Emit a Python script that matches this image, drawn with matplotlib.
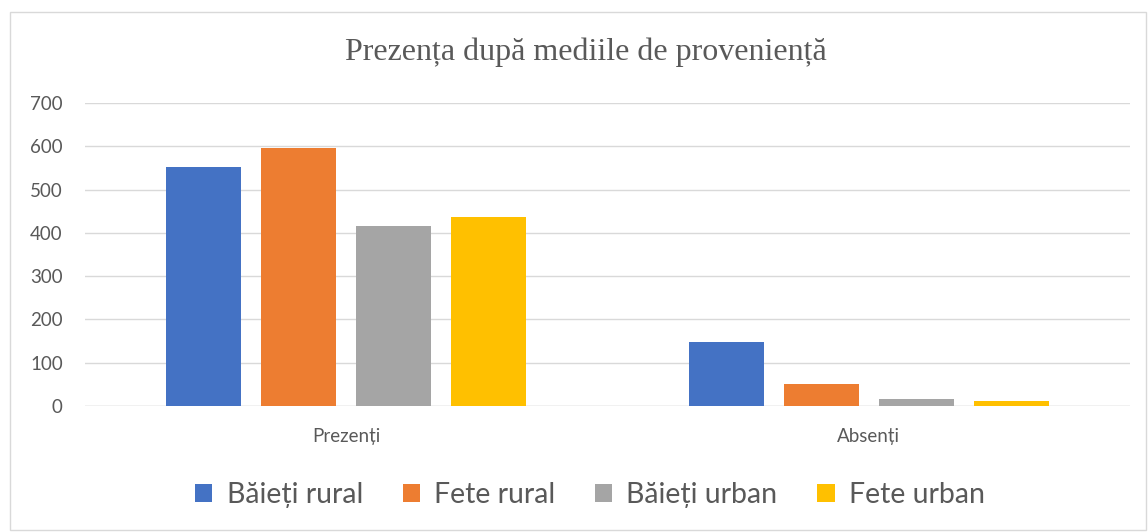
import numpy as np
from matplotlib import pyplot as plt
from matplotlib.patches import Rectangle

categories = ['Prezenți', 'Absenți']
series = ['Băieți rural', 'Fete rural', 'Băieți urban', 'Fete urban']
baieti_rural = [552, 147]
fete_rural = [596, 51]
baieti_urban = [416, 16]
fete_urban = [436, 11]
values = [baieti_rural, fete_rural, baieti_urban, fete_urban]
colors = ['#4472c4', '#ed7d31', '#a5a5a5', '#ffc000']

text_grey = '#595959'
grid_grey = '#d9d9d9'

fig = plt.figure(figsize=(11.48, 5.32), dpi=100)
fig.patches.append(Rectangle((0.009, 0.004), 0.989, 0.974, transform=fig.transFigure,
                             fill=False, edgecolor='#d9d9d9', linewidth=1))
ax = fig.add_axes([85 / 1148, 1 - 406 / 532, 1045 / 1148, 303 / 532])

x = np.arange(len(categories))
width = 0.1435
step = 0.182
for i, (name, vals) in enumerate(zip(series, values)):
    ax.bar(x + (i - 1.5) * step, vals, width, color=colors[i], label=name, zorder=3)

ax.set_xlim(-0.5, 1.5)
ax.set_ylim(0, 700)
ax.set_yticks(np.arange(0, 701, 100))
ax.grid(axis='y', color=grid_grey, linewidth=1, zorder=0)
for s in ax.spines.values():
    s.set_visible(False)
ax.axhline(0, color=grid_grey, linewidth=1, zorder=1)
ax.tick_params(axis='both', length=0, labelcolor=text_grey, labelsize=13.5)
ax.tick_params(axis='x', pad=16)
ax.tick_params(axis='y', pad=16)
ax.set_xticks(x)
ax.set_xticklabels(categories, family='Lato')
for lbl in ax.get_yticklabels():
    lbl.set_family('Lato')

fig.text(586 / 1148, 1 - 52 / 532, 'Prezența după mediile de proveniență', ha='center', va='center',
         family='Liberation Serif', fontsize=23, color=text_grey)

fig.legend(loc='center', bbox_to_anchor=(590 / 1148, 1 - 495 / 532), ncol=4, frameon=False,
           prop={'family': 'Lato', 'size': 20.5}, labelcolor=text_grey,
           handlelength=0.6, handleheight=0.6, handletextpad=0.5, columnspacing=1.4)

fig.savefig('out.png', dpi=100)
